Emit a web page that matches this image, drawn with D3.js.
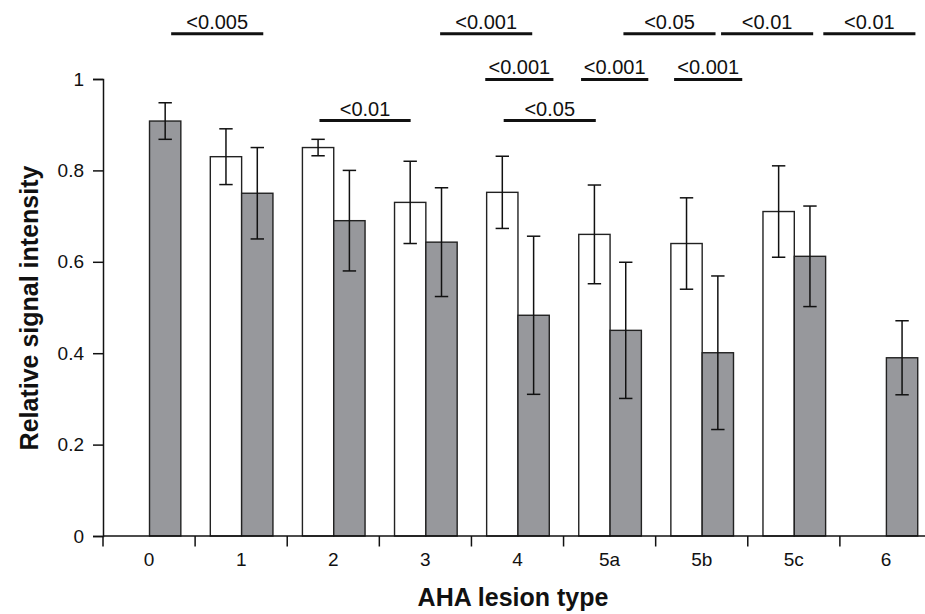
<!DOCTYPE html>
<html>
<head>
<meta charset="utf-8">
<script src="https://cdn.jsdelivr.net/npm/d3@7"></script>
<style>
  html, body { margin: 0; padding: 0; background: #fff; }
  svg { display: block; font-family: "Liberation Sans", Arial, sans-serif; }
</style>
</head>
<body>
<svg id="chart" width="925" height="614"></svg>
<script>
// ---- data ----
const categories = ["0", "1", "2", "3", "4", "5a", "5b", "5c", "6"];
const whiteValues = [null, 0.83, 0.85, 0.73, 0.752, 0.66, 0.64, 0.71, null];
const whiteErrors = [null, 0.061, 0.018, 0.09, 0.079, 0.108, 0.10, 0.10, null];
const grayValues = [0.908, 0.75, 0.69, 0.643, 0.483, 0.45, 0.401, 0.612, 0.39];
const grayErrors = [0.04, 0.10, 0.11, 0.119, 0.173, 0.149, 0.168, 0.11, 0.081];
const yTicks = [0, 0.2, 0.4, 0.6, 0.8, 1];
const yTickLabels = ["0", "0.2", "0.4", "0.6", "0.8", "1"];
// significance brackets (span in category units, level in y units)
const pLabels = ["<0.005", "<0.001", "<0.05", "<0.01", "<0.01", "<0.001", "<0.001", "<0.001", "<0.01", "<0.05"];
const pStart = [0.74, 3.66, 5.65, 6.71, 7.82, 4.15, 5.19, 6.20, 2.35, 4.35];
const pEnd = [1.74, 4.66, 6.65, 7.71, 8.82, 4.89, 5.92, 6.94, 3.34, 5.35];
const pLevel = [1.099, 1.099, 1.099, 1.099, 1.099, 0.999, 0.999, 0.999, 0.909, 0.909];
const xTitle = "AHA lesion type";
const yTitle = "Relative signal intensity";

(function () {
// ---- layout ----
const mLeft = 103, mRight = 932, mTop = 79, mBottom = 536;
const svg = d3.select("#chart");

const x = d3.scaleBand().domain(categories).range([mLeft, mRight]).padding(0);
const xu = d3.scaleLinear().domain([0, categories.length]).range([mLeft, mRight]);
const y = d3.scaleLinear().domain([0, 1]).range([mBottom, mTop]);
const bw = x.bandwidth();

const grayFill = "#97989c";
const ink = "#111";

// bars
const barW = bw * 0.34;
const whiteX = c => x(c) + bw * 0.165;
const grayX = c => x(c) + bw * 0.505;

const rows = categories.map((c, i) => ({c, w: whiteValues[i], we: whiteErrors[i], g: grayValues[i], ge: grayErrors[i]}));

svg.append("g").selectAll("rect").data(rows.filter(d => d.w != null)).join("rect")
  .attr("x", d => whiteX(d.c)).attr("width", barW)
  .attr("y", d => y(d.w)).attr("height", d => y(0) - y(d.w))
  .attr("fill", "#fff").attr("stroke", "#222").attr("stroke-width", 1.4);

svg.append("g").selectAll("rect").data(rows).join("rect")
  .attr("x", d => grayX(d.c)).attr("width", barW)
  .attr("y", d => y(d.g)).attr("height", d => y(0) - y(d.g))
  .attr("fill", grayFill).attr("stroke", "#222").attr("stroke-width", 1.4);

// error bars
const cap = 6.7;
function errBars(data, cx, v, e) {
  const g = svg.append("g").attr("stroke", ink).attr("stroke-width", 1.5);
  data.forEach(d => {
    const xc = cx(d.c) + barW / 2;
    const y1 = y(d[v] + d[e]), y2 = y(d[v] - d[e]);
    g.append("line").attr("x1", xc).attr("x2", xc).attr("y1", y1).attr("y2", y2);
    g.append("line").attr("x1", xc - cap).attr("x2", xc + cap).attr("y1", y1).attr("y2", y1);
    g.append("line").attr("x1", xc - cap).attr("x2", xc + cap).attr("y1", y2).attr("y2", y2);
  });
}
errBars(rows.filter(d => d.w != null), whiteX, "w", "we");
errBars(rows, grayX, "g", "ge");

// y axis
const yAxis = d3.axisLeft(y).tickValues(yTicks)
  .tickFormat((d, i) => yTickLabels[i]).tickSize(10).tickPadding(9);
const gy = svg.append("g").attr("transform", `translate(${mLeft},0)`).call(yAxis);
gy.select(".domain").attr("stroke", ink).attr("stroke-width", 1.5);
gy.selectAll(".tick line").attr("stroke", ink).attr("stroke-width", 1.5);
gy.selectAll(".tick text").attr("font-size", 19).attr("fill", "#111")
  .style("font-family", '"Liberation Sans", Arial, sans-serif');

// x axis line
svg.append("line").attr("x1", mLeft).attr("x2", 925).attr("y1", mBottom).attr("y2", mBottom)
  .attr("stroke", ink).attr("stroke-width", 1.5);
// boundary ticks
svg.append("g").selectAll("line").data(categories).join("line")
  .attr("x1", d => x(d)).attr("x2", d => x(d))
  .attr("y1", mBottom).attr("y2", mBottom + 10.5)
  .attr("stroke", ink).attr("stroke-width", 1.5);
// category labels
const xAxis = d3.axisBottom(x).tickSize(0).tickPadding(16.5);
const gx = svg.append("g").attr("transform", `translate(0,${mBottom})`).call(xAxis);
gx.select(".domain").remove();
gx.selectAll(".tick text").attr("font-size", 19).attr("fill", "#111")
  .style("font-family", '"Liberation Sans", Arial, sans-serif');

// titles
svg.append("text").attr("x", 513).attr("y", 606).attr("text-anchor", "middle")
  .attr("font-size", 25).attr("font-weight", "bold").attr("fill", "#111").text(xTitle);
svg.append("text").attr("transform", "translate(38,308) rotate(-90)").attr("text-anchor", "middle")
  .attr("font-size", 25).attr("font-weight", "bold").attr("fill", "#111").text(yTitle);

// significance brackets
const pg = svg.append("g");
pLabels.forEach((lab, i) => {
  const x1 = xu(pStart[i]), x2 = xu(pEnd[i]), yy = y(pLevel[i]);
  pg.append("line").attr("x1", x1).attr("x2", x2).attr("y1", yy).attr("y2", yy)
    .attr("stroke", ink).attr("stroke-width", 3);
  pg.append("text").attr("x", (x1 + x2) / 2).attr("y", yy - 5).attr("text-anchor", "middle")
    .attr("font-size", 20).attr("fill", "#111").text(lab);
});
})();
</script>
</body>
</html>
